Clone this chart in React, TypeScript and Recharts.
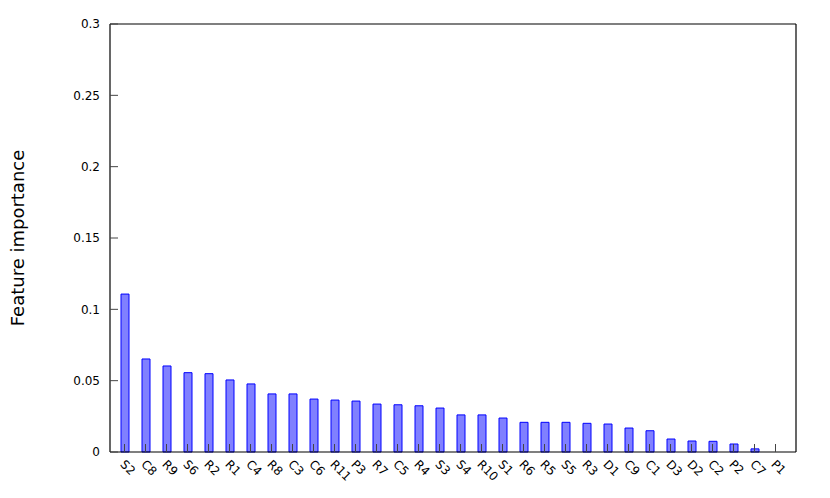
import { Bar, BarChart, CartesianGrid, XAxis, YAxis } from "recharts";

const features = [
  "S2", "C8", "R9", "S6", "R2", "R1", "C4", "R8", "C3", "C6", "R11", "P3", "R7", "C5", "R4", "S3",
  "S4", "R10", "S1", "R6", "R5", "S5", "R3", "D1", "C9", "C1", "D3", "D2", "C2", "P2", "C7", "P1",
];

const importance = [
  0.1107, 0.0652, 0.0603, 0.0556, 0.0549, 0.0505, 0.0477, 0.0407, 0.0407, 0.0371, 0.0364, 0.0357,
  0.0336, 0.0331, 0.0324, 0.0308, 0.026, 0.026, 0.0238, 0.0208, 0.0208, 0.0208, 0.0201, 0.0196,
  0.0168, 0.0149, 0.0091, 0.0077, 0.0075, 0.0056, 0.0022, 0,
];

const yTicks = [0, 0.05, 0.1, 0.15, 0.2, 0.25, 0.3];

const data = features.map((name, i) => ({ name, value: importance[i] }));

const font = "'DejaVu Sans', sans-serif";

function formatTick(v: number) {
  return String(Number(v.toFixed(2)));
}

export default function App() {
  return (
    <div style={{ width: 822, height: 490, fontFamily: font }}>
      <BarChart
        width={822}
        height={490}
        data={data}
        margin={{ top: 16, right: 34, bottom: 6, left: 42 }}
        barCategoryGap={0}
      >
        {/* top and right frame lines */}
        <CartesianGrid
          stroke="#000"
          strokeWidth={1.2}
          horizontalCoordinatesGenerator={({ offset }: any) => [offset.top]}
          verticalCoordinatesGenerator={({ offset }: any) => [offset.left + offset.width]}
        />
        <XAxis
          dataKey="name"
          interval={0}
          height={40}
          padding={{ left: 4, right: 10 }}
          axisLine={{ stroke: "#000", strokeWidth: 1.2 }}
          tickLine={{ stroke: "#444" }}
          tickSize={-8}
          tick={({ x, y, payload }: any) => (
            <text
              x={x - 5}
              y={y + 19}
              transform={`rotate(45 ${x - 5} ${y + 19})`}
              fontSize={12}
              fontFamily={font}
              fill="#000"
              textAnchor="start"
            >
              {payload.value}
            </text>
          )}
        />
        <YAxis
          domain={[0, 0.3]}
          ticks={yTicks}
          width={60}
          tickFormatter={formatTick}
          tickSize={-8}
          tickMargin={18}
          axisLine={{ stroke: "#000", strokeWidth: 1.2 }}
          tickLine={{ stroke: "#444" }}
          tick={{ fontSize: 12, fill: "#000", fontFamily: font }}
          label={{
            value: "Feature importance",
            angle: -90,
            position: "insideLeft",
            offset: -32,
            style: { fontSize: 18, fill: "#000", fontFamily: font, textAnchor: "middle" },
          }}
        />
        <Bar
          dataKey="value"
          barSize={8}
          fill="#8080ff"
          stroke="#0000ff"
          strokeWidth={1}
          isAnimationActive={false}
        />
      </BarChart>
    </div>
  );
}
